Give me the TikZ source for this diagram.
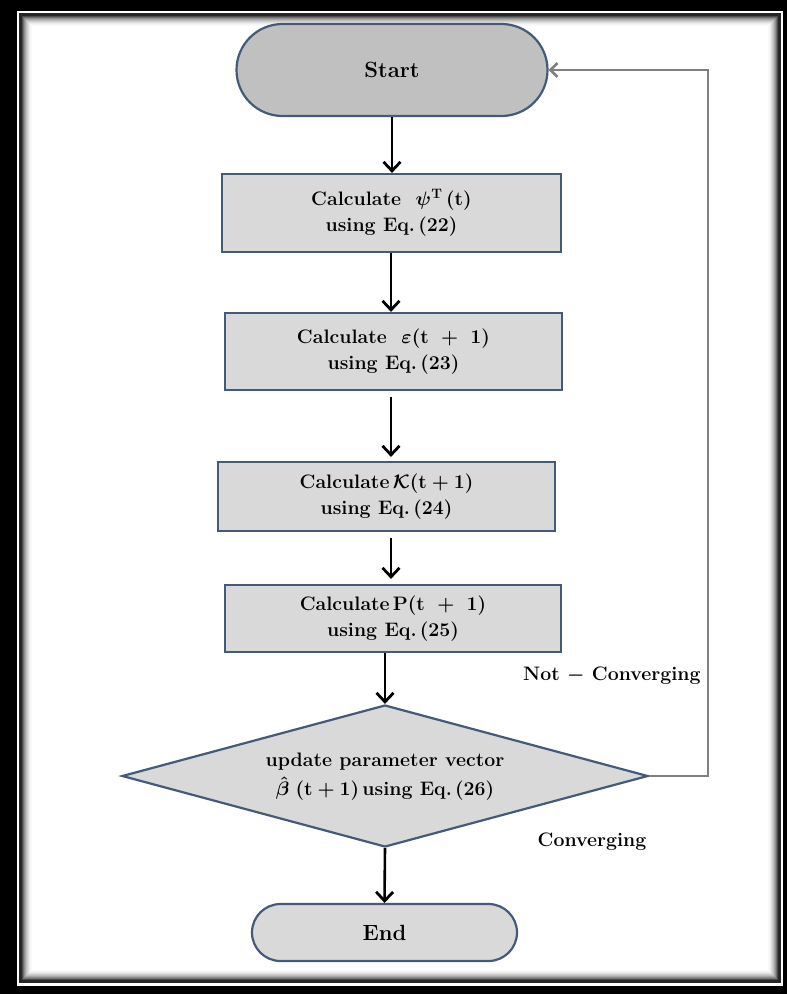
\RequirePackage{fix-cm}
\documentclass[tikz,border=0pt]{standalone}
\usepackage{amsmath,bm}
\usepackage{fontspec}
\usetikzlibrary{shapes.misc,shapes.geometric,arrows.meta,calc}
\definecolor{edgeblue}{RGB}{68,90,122}
\definecolor{boxfill}{RGB}{217,217,217}
\definecolor{startfill}{RGB}{192,192,192}
\definecolor{loopgray}{RGB}{128,128,128}
\begin{document}
\begin{tikzpicture}[x=1pt,y=-1pt,
  txt/.style={font=\fontsize{19.5}{26}\selectfont\bfseries\boldmath, align=center},
  bigtxt/.style={font=\fontsize{22}{26}\selectfont\bfseries},
  procbox/.style={draw=edgeblue, line width=2.2pt, fill=boxfill, rectangle, inner sep=0pt, txt},
  term/.style={draw=edgeblue, line width=2.2pt, rounded rectangle, inner sep=0pt, bigtxt},
  decide/.style={draw=edgeblue, line width=2.2pt, fill=boxfill, diamond, inner sep=0pt},
  arr/.style={line width=2.6pt, -{Straight Barb[length=9pt,width=17pt,line width=2.8pt]}},
  looparr/.style={draw=loopgray, line width=2.4pt, -{Straight Barb[length=7pt,width=14pt,line width=2.6pt]}},
  lbl/.style={txt, inner sep=0pt}
]
\useasboundingbox (0,0) rectangle (787,994);
% frame
\fill[black] (0,0) rectangle (787,994);
\fill[white] (17,11) rectangle (783,986);
\fill[black!85] (19,13) rectangle (781,983);
\foreach \i/\s in {0/70,1/56,2/44,3/34,4/26,5/19,6/13,7/8,8/4,9/2}{
  \fill[black!\s] ({22+\i},{16+\i}) rectangle ({778-\i},{980-\i});
}
\fill[white] (32,26) rectangle (768,970);

% nodes
\node[term, fill=startfill, minimum width=311pt, minimum height=92pt] (start) at (392,70) {Start};
\node[procbox, minimum width=339pt, minimum height=78pt] (b1) at (391.5,213)
  {Calculate\ \ $\bm{\psi}^{\mathbf{T}}\,(\mathbf{t})$\\using Eq.\,(22)};
\node[procbox, minimum width=337pt, minimum height=77pt] (b2) at (393.5,351.5)
  {Calculate\ \ $\bm{\varepsilon}(\mathbf{t}\ +\ \mathbf{1})$\\using Eq.\,(23)};
\node[procbox, minimum width=337pt, minimum height=69pt] (b3) at (386.5,496.5)
  {Calculate\,$\bm{\mathcal{K}}(\mathbf{t}+\mathbf{1})$\\using Eq.\,(24)};
\node[procbox, minimum width=336pt, minimum height=67pt] (b4) at (393,618.5)
  {Calculate\,$\mathbf{P}(\mathbf{t}\ +\ \mathbf{1})$\\using Eq.\,(25)};
\node[decide, minimum width=526pt, minimum height=142pt] (dia) at (385,776) {};
\node[lbl, font=\fontsize{19.5}{29}\selectfont\bfseries\boldmath] (diatext) at (385,777)
  {update parameter vector\\$\hat{\bm{\beta}}\;(\mathbf{t}+\mathbf{1})$\,using Eq.\,(26)};
\node[term, fill=boxfill, minimum width=265pt, minimum height=57pt] (end) at (384.5,932.5) {End};

\node[lbl, anchor=west] (notconv) at (523,676) {Not $-$ Converging};
\node[lbl] (conv) at (592,842) {Converging};

% connectors
\draw[arr] (start.south) -- (start.south |- b1.north);
\draw[arr] (b1.south -| 391,0) -- (b2.north -| 391,0);
\draw[arr] ([yshift=-6pt]b2.south -| 391,0) -- ([yshift=4pt]b3.north -| 391,0);
\draw[arr] ([yshift=-6pt]b3.south -| 391,0) -- ([yshift=5pt]b4.north -| 391,0);
\draw[arr] (b4.south -| dia.north) -- (dia.north);
\draw[arr] (dia.south) -- (end.north);
\coordinate (loopc) at (708,776);
\draw[looparr] (dia.east) -- (loopc) |- (start.east);
\end{tikzpicture}
\end{document}
